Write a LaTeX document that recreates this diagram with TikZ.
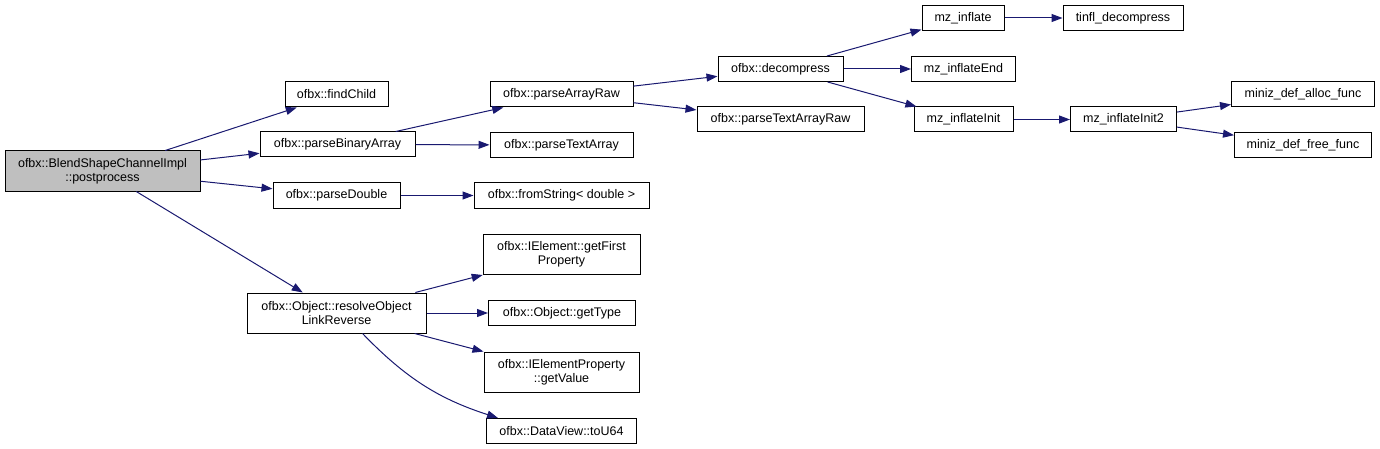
\documentclass[tikz,border=0pt]{standalone}
\usepackage{fontspec}
\setmainfont{Liberation Sans}
\usetikzlibrary{arrows.meta}
\definecolor{edgeblue}{HTML}{191970}
\definecolor{rootgray}{HTML}{BFBFBF}

\begin{document}
\begin{tikzpicture}[x=1pt,y=-1pt,
    fn/.style={draw=black,line width=1pt,fill=white,inner sep=0pt,
      minimum height=25pt,align=center,
      font=\fontsize{12.5}{14}\selectfont},
    fntwo/.style={fn,minimum height=40pt},
    call/.style={draw=edgeblue,line width=1pt,
      -{Triangle[length=11pt,width=8pt]}}]
  \useasboundingbox (0,0) rectangle (1380,449);
  % Caller
  \node[fntwo,fill=rootgray,minimum width=195pt] (root) at (102.5,171)
    {ofbx::BlendShapeChannelImpl\\::postprocess};
  % First level
  \node[fn,minimum width=103pt] (findChild) at (336.5,94.5) {ofbx::findChild};
  \node[fn,minimum width=155pt] (parseBinaryArray) at (337.5,144.5) {ofbx::parseBinaryArray};
  \node[fn,minimum width=127pt] (parseDouble) at (336.5,195.5) {ofbx::parseDouble};
  \node[fntwo,minimum width=179pt] (resolveObject) at (336.5,313)
    {ofbx::Object::resolveObject\\LinkReverse};
  % Second level
  \node[fn,minimum width=143pt] (parseArrayRaw) at (561.5,94.5) {ofbx::parseArrayRaw};
  \node[fn,minimum width=143pt] (parseTextArray) at (561.5,145) {ofbx::parseTextArray};
  \node[fn,minimum width=175pt] (fromString) at (561.5,195.5) {ofbx::fromString< double >};
  \node[fntwo,minimum width=157pt] (getFirstProperty) at (561.5,254.5)
    {ofbx::IElement::getFirst\\Property};
  \node[fn,minimum width=147pt] (getType) at (562,313) {ofbx::Object::getType};
  \node[fntwo,minimum width=155pt] (getValue) at (561.5,372)
    {ofbx::IElementProperty\\::getValue};
  \node[fn,minimum width=150pt] (toU64) at (561.5,431) {ofbx::DataView::toU64};
  % Third level
  \node[fn,minimum width=125pt] (decompress) at (780.5,69) {ofbx::decompress};
  \node[fn,minimum width=167pt] (parseTextArrayRaw) at (780.5,119.5) {ofbx::parseTextArrayRaw};
  % miniz
  \node[fn,minimum width=82pt] (mzInflate) at (963,18) {mz\_inflate};
  \node[fn,minimum width=104pt] (mzInflateEnd) at (963.5,69) {mz\_inflateEnd};
  \node[fn,minimum width=99pt] (mzInflateInit) at (963.5,119.5) {mz\_inflateInit};
  \node[fn,minimum width=120pt] (tinflDecompress) at (1123,18) {tinfl\_decompress};
  \node[fn,minimum width=106pt] (mzInflateInit2) at (1123.5,119.5) {mz\_inflateInit2};
  \node[fn,minimum width=143pt] (allocFunc) at (1303,94.5) {miniz\_def\_alloc\_func};
  \node[fn,minimum width=137pt] (freeFunc) at (1303,145) {miniz\_def\_free\_func};
  % Calls
  \draw[call] (root) -- (findChild);
  \draw[call] (root) -- (parseBinaryArray);
  \draw[call] (root) -- (parseDouble);
  \draw[call] (root) -- (resolveObject);
  \draw[call] (parseBinaryArray) -- (parseArrayRaw);
  \draw[call] (parseBinaryArray) -- (parseTextArray);
  \draw[call] (parseDouble) -- (fromString);
  \draw[call] (parseArrayRaw) -- (decompress);
  \draw[call] (parseArrayRaw) -- (parseTextArrayRaw);
  \draw[call] (decompress) -- (mzInflate);
  \draw[call] (decompress) -- (mzInflateEnd);
  \draw[call] (decompress) -- (mzInflateInit);
  \draw[call] (mzInflate) -- (tinflDecompress);
  \draw[call] (mzInflateInit) -- (mzInflateInit2);
  \draw[call] (mzInflateInit2) -- (allocFunc);
  \draw[call] (mzInflateInit2) -- (freeFunc);
  \draw[call] (resolveObject) -- (getFirstProperty);
  \draw[call] (resolveObject) -- (getType);
  \draw[call] (resolveObject) -- (getValue);
  \draw[call] ([xshift=26pt]resolveObject.south) to[bend right=14] ([xshift=12pt]toU64.north west);
\end{tikzpicture}
\end{document}
